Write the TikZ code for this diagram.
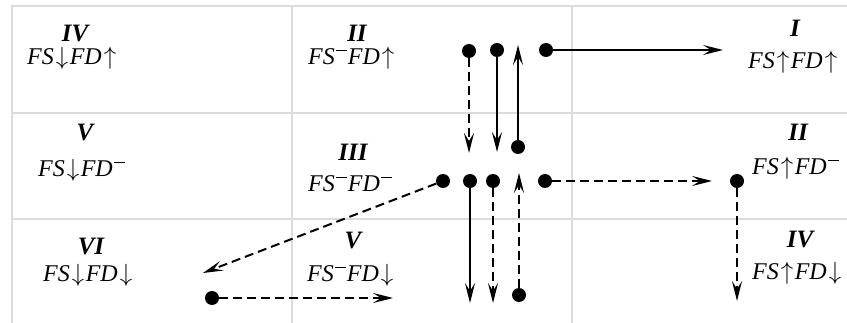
\documentclass[tikz,border=0pt]{standalone}
\usepackage{fontspec}
\setmainfont{Liberation Serif}
\usetikzlibrary{arrows.meta}
\newcommand{\myup}{\hspace{2pt}$\uparrow$\hspace{1.5pt}}
\newcommand{\mydn}{\hspace{2pt}$\downarrow$\hspace{1.5pt}}
\newcommand{\mybar}{\hspace{1pt}\rule[13.5pt]{11pt}{1.3pt}\hspace{1pt}}
\tikzset{
  grid/.style={draw={rgb,255:red,220;green,220;blue,220}, line width=1.5pt},
  dot/.style={circle, fill=black, inner sep=0pt, minimum size=14pt},
  conn/.style={line width=2pt, -{Stealth[length=20pt,width=10pt,inset=8pt]}},
  dconn/.style={conn, dash pattern=on 9pt off 5pt},
  num/.style={anchor=base, inner sep=0pt, font=\fontsize{25}{29}\selectfont\bfseries\itshape},
  lab/.style={anchor=base west, inner sep=0pt, font=\fontsize{24}{28}\selectfont\itshape},
}
\begin{document}
\begin{tikzpicture}[x=1pt,y=-1pt]
\useasboundingbox (0,0) rectangle (847,323);
% grid
\draw[grid] (12,323) -- (12,6) -- (847,6);
\draw[grid] (12,113) -- (847,113);
\draw[grid] (12,219) -- (847,219);
\draw[grid] (292,6) -- (292,323);
\draw[grid] (572,6) -- (572,323);
% labels
\node[num] (n11) at (75,42) {IV};
\node[lab] (l11) at (27,65) {FS\mydn FD\myup};
\node[num] (n12) at (357,42) {II};
\node[lab] (l12) at (308,65) {FS\mybar FD\myup};
\node[num] (n13) at (795,37) {I};
\node[lab] (l13) at (748,69) {FS\myup FD\myup};
\node[num] (n21) at (85,141) {V};
\node[lab] (l21) at (38,177) {FS\mydn FD\mybar};
\node[num] (n22) at (353,161) {III};
\node[lab] (l22) at (308,192) {FS\mybar FD\mybar};
\node[num] (n23) at (798,141) {II};
\node[lab] (l23) at (752,175) {FS\myup FD\mybar};
\node[num] (n31) at (91,255) {VI};
\node[lab] (l31) at (43,282) {FS\mydn FD\mydn};
\node[num] (n32) at (353,249) {V};
\node[lab] (l32) at (307,282) {FS\mybar FD\mydn};
\node[num] (n33) at (800,248) {IV};
\node[lab] (l33) at (752,280) {FS\myup FD\mydn};
% dots
\node[dot] (a1) at (469,51) {};
\node[dot] (a2) at (497,50) {};
\node[dot] (a3) at (518,147) {};
\node[dot] (a4) at (546,50) {};
\node[dot] (b1) at (443,181) {};
\node[dot] (b2) at (470,181) {};
\node[dot] (b3) at (493,181) {};
\node[dot] (b4) at (519,295) {};
\node[dot] (b5) at (545,181) {};
\node[dot] (b6) at (737,181) {};
\node[dot] (c1) at (212,298) {};
% arrow tips
\coordinate (ta1) at (469,153);
\coordinate (ta2) at (497,152);
\coordinate (ta3) at (518,45);
\coordinate (ta4) at (723,50);
\coordinate (tb1) at (203,273);
\coordinate (tb2) at (470,303);
\coordinate (tb3) at (493,303);
\coordinate (tb4) at (519,173);
\coordinate (tb5) at (712,181);
\coordinate (tb6) at (737,301);
\coordinate (tc1) at (393,298);
% connectors
\draw[dconn] (a1) -- (ta1);
\draw[conn] (a2) -- (ta2);
\draw[conn] (a3) -- (ta3);
\draw[conn] (a4) -- (ta4);
\draw[dconn] (b1) -- (tb1);
\draw[conn] (b2) -- (tb2);
\draw[dconn] (b3) -- (tb3);
\draw[dconn] (b4) -- (tb4);
\draw[dconn] (b5) -- (tb5);
\draw[dconn] (b6) -- (tb6);
\draw[dconn] (c1) -- (tc1);
\end{tikzpicture}
\end{document}
